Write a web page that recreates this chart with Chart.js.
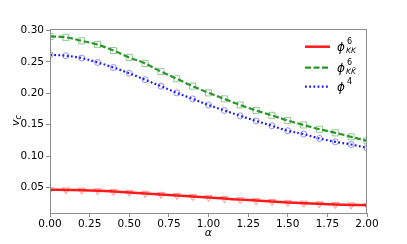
<!DOCTYPE html>
<html>
<head>
<meta charset="utf-8">
<script src="https://cdn.jsdelivr.net/npm/chart.js@4.4.1/dist/chart.umd.min.js"></script>
<style>
  html, body { margin: 0; padding: 0; background: #fff; }
</style>
</head>
<body>
<canvas id="myChart" width="407" height="244"></canvas>
<script>
// values
const alphas = [0, 0.1, 0.2, 0.3, 0.4, 0.5, 0.6, 0.7, 0.8, 0.9, 1.0,
                1.1, 1.2, 1.3, 1.4, 1.5, 1.6, 1.7, 1.8, 1.9, 2.0];
const phi6KK = [0.0463, 0.0461, 0.0456, 0.0448, 0.0436, 0.0421, 0.0405, 0.0389, 0.0372, 0.0355, 0.0339,
                0.0322, 0.0306, 0.0291, 0.0276, 0.0262, 0.0250, 0.0239, 0.0229, 0.0222, 0.0216];
const phi6KKbar = [0.2905, 0.2890, 0.2835, 0.2775, 0.2680, 0.2570, 0.2475, 0.2345, 0.2230, 0.2113, 0.2006,
                   0.1910, 0.1813, 0.1726, 0.1648, 0.1565, 0.1495, 0.1426, 0.1370, 0.1306, 0.1242];
const phi4 = [0.2613, 0.2597, 0.2560, 0.2490, 0.2410, 0.2318, 0.2215, 0.2113, 0.2006, 0.1910, 0.1813,
              0.1726, 0.1640, 0.1560, 0.1482, 0.1403, 0.1350, 0.1280, 0.1226, 0.1184, 0.1129];
const xTicks = [0, 0.25, 0.5, 0.75, 1.0, 1.25, 1.5, 1.75, 2.0];
const yTicks = [0.05, 0.10, 0.15, 0.20, 0.25, 0.30];

const pts = arr => arr.map((v, i) => ({x: alphas[i], y: v}));
const axisColor = '#8c8c8c';
const tickFont = {family: 'DejaVu Sans', size: 10.5};

// legend entries: [line dataset index, superscript, subscript]
const legendItems = [[0, '6', 'KK'], [1, '6', 'KK\u0304'], [2, '4', '']];

const extras = {
  id: 'extras',
  afterDraw(chart) {
    const c = chart.ctx, a = chart.chartArea;
    c.save();
    // top and right spines
    c.strokeStyle = axisColor;
    c.lineWidth = 1;
    c.strokeRect(a.left + 0.5, a.top + 0.5, a.right - a.left - 1, a.bottom - a.top);
    c.fillStyle = '#000';
    c.textBaseline = 'middle';
    // x title
    c.textAlign = 'center';
    c.font = 'italic 11px DejaVu Sans';
    c.fillText('\u03b1', (a.left + a.right) / 2, 233);
    // y title v_c
    c.translate(16, (a.top + a.bottom) / 2);
    c.rotate(-Math.PI / 2);
    c.textAlign = 'left';
    c.font = 'italic 11px DejaVu Sans';
    c.fillText('v', -5, 0);
    c.font = 'italic 8px DejaVu Sans';
    c.fillText('c', 1.5, 3);
    c.restore();

    // legend
    c.save();
    const rows = [46.7, 67.7, 86.7];
    legendItems.forEach((it, k) => {
      const ds = chart.data.datasets[it[0]];
      const y = rows[k];
      c.strokeStyle = ds.borderColor;
      c.lineWidth = ds.borderWidth;
      c.setLineDash(ds.borderDash || []);
      c.beginPath();
      c.moveTo(305, y);
      c.lineTo(330, y);
      c.stroke();
      c.setLineDash([]);
      c.fillStyle = '#000';
      c.textBaseline = 'middle';
      c.textAlign = 'left';
      c.font = 'italic 12px DejaVu Sans';
      c.fillText('\u03d5', 337, y + 1);
      c.font = '8px DejaVu Sans';
      c.fillText(it[1], 347, y - 5);
      if (it[2]) {
        c.font = 'italic 7.5px DejaVu Sans';
        c.fillText(it[2], 346, y + 4.5);
      }
    });
    c.restore();
  }
};

const ctx = document.getElementById('myChart').getContext('2d');

const lineDs = (label, data, color, width, dash) => ({
  label: label, data: pts(data), borderColor: color, borderWidth: width,
  borderDash: dash, pointRadius: 0, tension: 0.4, fill: false, order: 0
});
const markDs = (label, data, color, style, radius, rot) => ({
  label: label, data: pts(data), showLine: false, pointStyle: style,
  pointRadius: radius, pointRotation: rot, pointBorderColor: color,
  pointBackgroundColor: 'rgba(0,0,0,0)', pointBorderWidth: 1, order: 1
});

const myChart = new Chart(ctx, {
  type: 'line',
  data: {
    datasets: [
      lineDs('phi6 KK', phi6KK, '#ff1a1a', 2.5, []),
      lineDs('phi6 KKbar', phi6KKbar, '#2a962a', 2.2, [6, 2.5]),
      lineDs('phi4', phi4, '#1a1aff', 2.2, [1.8, 2.4]),
      markDs('phi6 KK data', phi6KK, 'rgba(255,60,60,0.55)', 'triangle', 4, 180),
      markDs('phi6 KKbar data', phi6KKbar, 'rgba(60,160,60,0.55)', 'rect', 4.3, 0),
      markDs('phi4 data', phi4, 'rgba(60,60,255,0.55)', 'circle', 3, 0)
    ]
  },
  options: {
    responsive: false,
    animation: false,
    events: [],
    layout: {padding: {top: 29, right: 40, left: 0, bottom: 0}},
    plugins: {legend: {display: false}, tooltip: {enabled: false}},
    scales: {
      x: {
        type: 'linear', min: 0, max: 2,
        afterFit: s => { s.height = 31; },
        afterBuildTicks: s => { s.ticks = xTicks.map(v => ({value: v})); },
        grid: {display: true, drawOnChartArea: false, drawTicks: true, tickLength: 4, color: axisColor},
        border: {display: true, color: axisColor},
        ticks: {color: '#000', font: tickFont, padding: 1, maxRotation: 0,
                callback: v => v.toFixed(2)}
      },
      y: {
        type: 'linear', min: 0.0093, max: 0.3023,
        afterFit: s => { s.width = 50; },
        afterBuildTicks: s => { s.ticks = yTicks.map(v => ({value: v})); },
        grid: {display: true, drawOnChartArea: false, drawTicks: true, tickLength: 4, color: axisColor},
        border: {display: true, color: axisColor},
        ticks: {color: '#000', font: tickFont, padding: 2,
                callback: v => v.toFixed(2)}
      }
    }
  },
  plugins: [extras]
});
</script>
</body>
</html>
